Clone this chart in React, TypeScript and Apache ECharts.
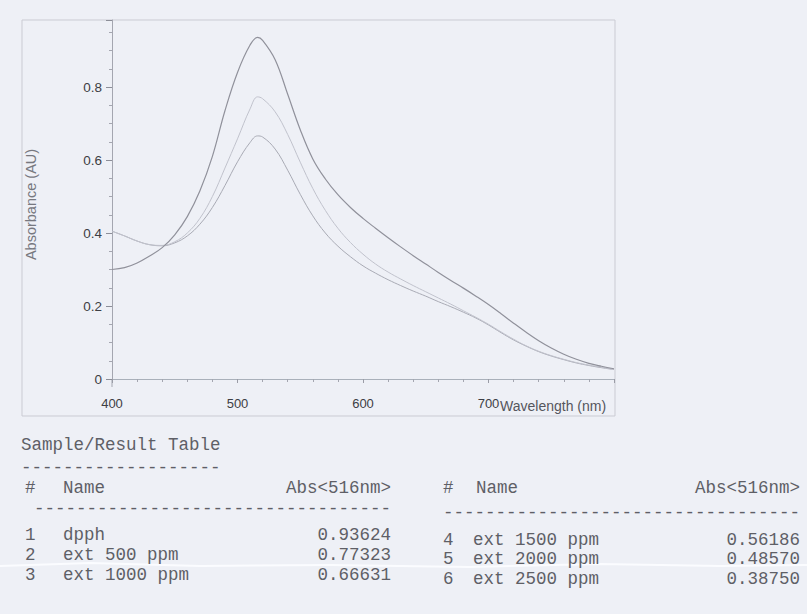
import React, { useEffect, useRef } from "react";
import * as echarts from "echarts";

// Wavelength grid (nm)
const wavelengths = [
  400, 410, 420, 430, 440, 450, 460, 470, 480, 490, 500, 510, 516, 520, 530, 540, 550, 560,
  570, 580, 590, 600, 610, 620, 630, 640, 650, 660, 670, 680, 690, 700, 710, 720, 730, 740,
  750, 760, 770, 780, 790, 800,
];

// Absorbance (AU)
const dpph = [
  0.3, 0.305, 0.318, 0.337, 0.36, 0.395, 0.445, 0.515, 0.61, 0.735, 0.84, 0.915, 0.936, 0.928,
  0.875, 0.78, 0.683, 0.603, 0.548, 0.505, 0.47, 0.44, 0.413, 0.387, 0.362, 0.338, 0.315, 0.292,
  0.27, 0.249, 0.227, 0.204, 0.179, 0.153, 0.128, 0.105, 0.085, 0.068, 0.054, 0.043, 0.035, 0.028,
];
const ext500 = [
  0.405, 0.392, 0.378, 0.368, 0.366, 0.376, 0.4, 0.44, 0.5, 0.578, 0.658, 0.74, 0.773, 0.768,
  0.732, 0.67, 0.594, 0.522, 0.462, 0.413, 0.374, 0.342, 0.315, 0.293, 0.274, 0.256, 0.239, 0.222,
  0.205, 0.187, 0.169, 0.15, 0.129, 0.109, 0.091, 0.076, 0.064, 0.054, 0.045, 0.038, 0.032, 0.026,
];
const ext1000 = [
  0.405, 0.392, 0.378, 0.368, 0.365, 0.373, 0.392, 0.424, 0.47, 0.53, 0.595, 0.648, 0.666, 0.663,
  0.63, 0.572, 0.506, 0.447, 0.4, 0.364, 0.335, 0.31, 0.29, 0.272, 0.256, 0.241, 0.227, 0.212,
  0.198, 0.183, 0.167, 0.148, 0.127, 0.107, 0.09, 0.075, 0.063, 0.053, 0.044, 0.037, 0.031, 0.026,
];

// Sample/Result table
const sampleNo = ["1", "2", "3", "4", "5", "6"];
const sampleNames = ["dpph", "ext 500 ppm", "ext 1000 ppm", "ext 1500 ppm", "ext 2000 ppm", "ext 2500 ppm"];
const sampleAbs = ["0.93624", "0.77323", "0.66631", "0.56186", "0.48570", "0.38750"];
const tableTitle = "Sample/Result Table";
const headerNo = "#";
const headerName = "Name";
const headerAbs = "Abs<516nm>";
const xAxisTitle = "Wavelength (nm)";
const yAxisTitle = "Absorbance (AU)";

const MONO = '"Liberation Mono", "DejaVu Sans Mono", monospace';
const SANS = '"Liberation Sans", Arial, sans-serif';
const INK = "#5e5f66";

function txt(text: string, x: number, y: number, align: string, font: string, fill: string) {
  return {
    type: "text",
    x,
    y,
    silent: true,
    style: {
      text,
      font,
      fill,
      textAlign: align,
      textVerticalAlign: "middle",
      align,
      verticalAlign: "middle",
    },
  };
}

export default function App() {
  const ref = useRef<HTMLDivElement>(null);

  useEffect(() => {
    document.body.style.margin = "0";
    const chart = echarts.init(ref.current!, null, { renderer: "svg" });

    const pairs = (ys: number[]) => wavelengths.map((w, i) => [w, ys[i]]);
    const tableFont = `17.5px ${MONO}`;

    const leftRowsY = [535, 555, 575];
    const rightRowsY = [540, 559, 579];
    const tableEls: any[] = [];
    tableEls.push(txt(tableTitle, 21, 445, "left", tableFont, INK));
    tableEls.push(txt("-".repeat(19), 21, 468, "left", tableFont, INK));
    // left header
    tableEls.push(txt(headerNo, 25, 488, "left", tableFont, INK));
    tableEls.push(txt(headerName, 63, 488, "left", tableFont, INK));
    tableEls.push(txt(headerAbs, 391, 488, "right", tableFont, INK));
    tableEls.push(txt("-".repeat(34), 391, 509, "right", tableFont, INK));
    // right header
    tableEls.push(txt(headerNo, 443, 488, "left", tableFont, INK));
    tableEls.push(txt(headerName, 476, 488, "left", tableFont, INK));
    tableEls.push(txt(headerAbs, 800, 488, "right", tableFont, INK));
    tableEls.push(txt("-".repeat(34), 800, 513, "right", tableFont, INK));
    sampleNo.forEach((n, i) => {
      const left = i < 3;
      const y = left ? leftRowsY[i] : rightRowsY[i - 3];
      tableEls.push(txt(n, left ? 25 : 443, y, "left", tableFont, INK));
      tableEls.push(txt(sampleNames[i], left ? 63 : 473, y, "left", tableFont, INK));
      tableEls.push(txt(sampleAbs[i], left ? 391 : 800, y, "right", tableFont, INK));
    });

    chart.setOption({
      animation: false,
      backgroundColor: "#eef0f6",
      grid: { left: 112, top: 20, right: 193, bottom: 235, containLabel: false },
      xAxis: {
        type: "value",
        min: 400,
        max: 800,
        interval: 100,
        offset: 8,
        axisLine: { show: true, lineStyle: { color: "#a9b0ba", width: 1 } },
        axisTick: { show: true, length: 4, lineStyle: { color: "#9a9ca6" } },
        minorTick: { show: true, splitNumber: 5, length: 3, lineStyle: { color: "#a4a6b0" } },
        axisLabel: {
          showMaxLabel: false,
          margin: 10,
          fontSize: 13,
          fontFamily: SANS,
          color: "#3d3e44",
        },
        splitLine: { show: false },
      },
      yAxis: {
        type: "value",
        min: 0,
        max: 0.9836,
        interval: 0.2,
        name: yAxisTitle,
        nameLocation: "middle",
        nameGap: 74,
        nameTextStyle: { fontSize: 14.5, fontFamily: SANS, color: "#77787f", padding: [0, 0, 0, -10] },
        axisLine: { show: true, lineStyle: { color: "#a4a6b0", width: 1 } },
        axisTick: { show: true, length: 6, lineStyle: { color: "#8c8e98" } },
        minorTick: { show: true, splitNumber: 4, length: 3, lineStyle: { color: "#a4a6b0" } },
        axisLabel: {
          showMaxLabel: false,
          margin: 10,
          fontSize: 13.5,
          fontFamily: SANS,
          color: "#3d3e44",
        },
        splitLine: { show: false },
      },
      series: [
        {
          name: "ext 1000 ppm",
          type: "line",
          data: pairs(ext1000),
          smooth: 0.4,
          showSymbol: false,
          lineStyle: { color: "#a8aab4", width: 1 },
        },
        {
          name: "ext 500 ppm",
          type: "line",
          data: pairs(ext500),
          smooth: 0.4,
          showSymbol: false,
          lineStyle: { color: "#c0c2cc", width: 1 },
        },
        {
          name: "dpph",
          type: "line",
          data: pairs(dpph),
          smooth: 0.4,
          showSymbol: false,
          lineStyle: { color: "#90919b", width: 1.2 },
        },
      ],
      graphic: [
        {
          type: "rect",
          silent: true,
          shape: { x: 22, y: 20, width: 593, height: 396 },
          style: { fill: "none", stroke: "#cacbd3", lineWidth: 1 },
        },
        {
          type: "line",
          silent: true,
          shape: { x1: 112, y1: 379, x2: 112, y2: 387 },
          style: { stroke: "#a4a6b0", lineWidth: 1 },
        },
        txt(xAxisTitle, 500, 406, "left", `14px ${SANS}`, "#55565d"),
        {
          type: "polyline",
          silent: true,
          shape: {
            points: [
              [0, 566], [90, 563], [200, 566], [330, 565], [470, 567], [600, 564], [720, 566], [807, 565],
            ],
          },
          style: { stroke: "#fbfcff", lineWidth: 2, fill: "none" },
        },
        ...tableEls,
      ],
    });

    return () => chart.dispose();
  }, []);

  return (
    <div
      ref={ref}
      style={{ position: "fixed", left: 0, top: 0, width: 807, height: 614, background: "#eef0f6" }}
    />
  );
}
